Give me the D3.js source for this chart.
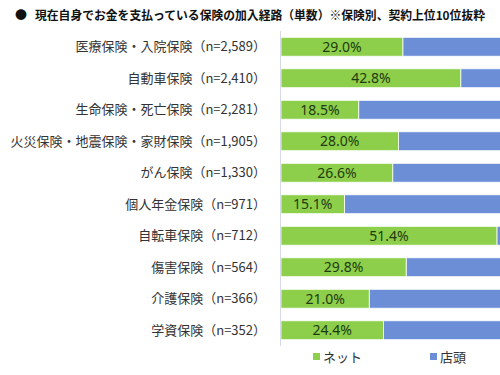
<!DOCTYPE html>
<html><head><meta charset="utf-8">
<script src="https://cdn.jsdelivr.net/npm/d3@7"></script>
<style>
html,body{margin:0;padding:0;background:#fff;overflow:hidden;}
svg{display:block;font-family:"Noto Sans CJK JP","Noto Sans",sans-serif;}
</style></head>
<body>
<svg id="c" width="500" height="375"></svg>
<script>
const bullet = "●";
const title = "現在自身でお金を支払っている保険の加入経路（単数）※保険別、契約上位10位抜粋";
const categories = ["医療保険・入院保険","自動車保険","生命保険・死亡保険","火災保険・地震保険・家財保険","がん保険","個人年金保険","自転車保険","傷害保険","介護保険","学資保険"];
const sampleSizes = ["2,589","2,410","2,281","1,905","1,330","971","712","564","366","352"];
const netShare = [29.0,42.8,18.5,28.0,26.6,15.1,51.4,29.8,21.0,24.4];
const storeShare = netShare.map(v => +(100 - v).toFixed(1));
const seriesNames = ["ネット","店頭"];
const colors = ["#8DCF4A","#6B8ED7"];

const svg = d3.select("#c");
const x = d3.scaleLinear().domain([0,100]).range([281,701]);
const y = d3.scaleBand().domain(d3.range(categories.length)).range([31,346]).paddingInner(0.4).paddingOuter(0.2);

svg.append("text").attr("x",15).attr("y",20).attr("font-size",12).attr("fill","#111").text(bullet);
svg.append("text").attr("x",35).attr("y",20).attr("font-size",12).attr("font-weight","bold").attr("fill","#111")
  .attr("textLength",450).attr("lengthAdjust","spacingAndGlyphs").text(title);

const rows = svg.append("g").selectAll("g").data(categories).join("g");
rows.append("rect").attr("x",(d,i)=>x(netShare[i])).attr("y",(d,i)=>y(i))
  .attr("width",(d,i)=>x(netShare[i]+storeShare[i])-x(netShare[i])).attr("height",y.bandwidth())
  .attr("fill",colors[1]).attr("stroke","#fff").attr("stroke-width",0.8);
rows.append("rect").attr("x",x(0)).attr("y",(d,i)=>y(i))
  .attr("width",(d,i)=>x(netShare[i])-x(0)).attr("height",y.bandwidth())
  .attr("fill",colors[0]).attr("stroke","#fff").attr("stroke-width",0.8);
rows.append("text").attr("x",(d,i)=>(x(0)+x(netShare[i]))/2).attr("y",(d,i)=>y(i)+y.bandwidth()/2)
  .attr("dy","0.36em").attr("text-anchor","middle").attr("font-size",14).attr("fill","#1e3a10")
  .attr("font-family","'Noto Sans','DejaVu Sans',sans-serif")
  .text((d,i)=>netShare[i].toFixed(1)+"%");
rows.append("text").attr("x",266).attr("y",(d,i)=>y(i)+y.bandwidth()/2)
  .attr("dy","0.36em").attr("text-anchor","end").attr("font-size",13).attr("fill","#333")
  .text((d,i)=>d+"（n="+sampleSizes[i]+"）");

svg.append("line").attr("x1",x(0)-0.5).attr("x2",x(0)-0.5).attr("y1",31).attr("y2",346)
  .attr("stroke","#d6dae6").attr("stroke-width",1);

const legX = [313,430];
seriesNames.forEach((n,i)=>{
  svg.append("rect").attr("x",legX[i]).attr("y",353).attr("width",7).attr("height",7).attr("fill",colors[i]);
  svg.append("text").attr("x",legX[i]+10).attr("y",357).attr("dy","0.36em").attr("font-size",13).attr("fill","#333").text(n);
});
</script>
</body></html>
